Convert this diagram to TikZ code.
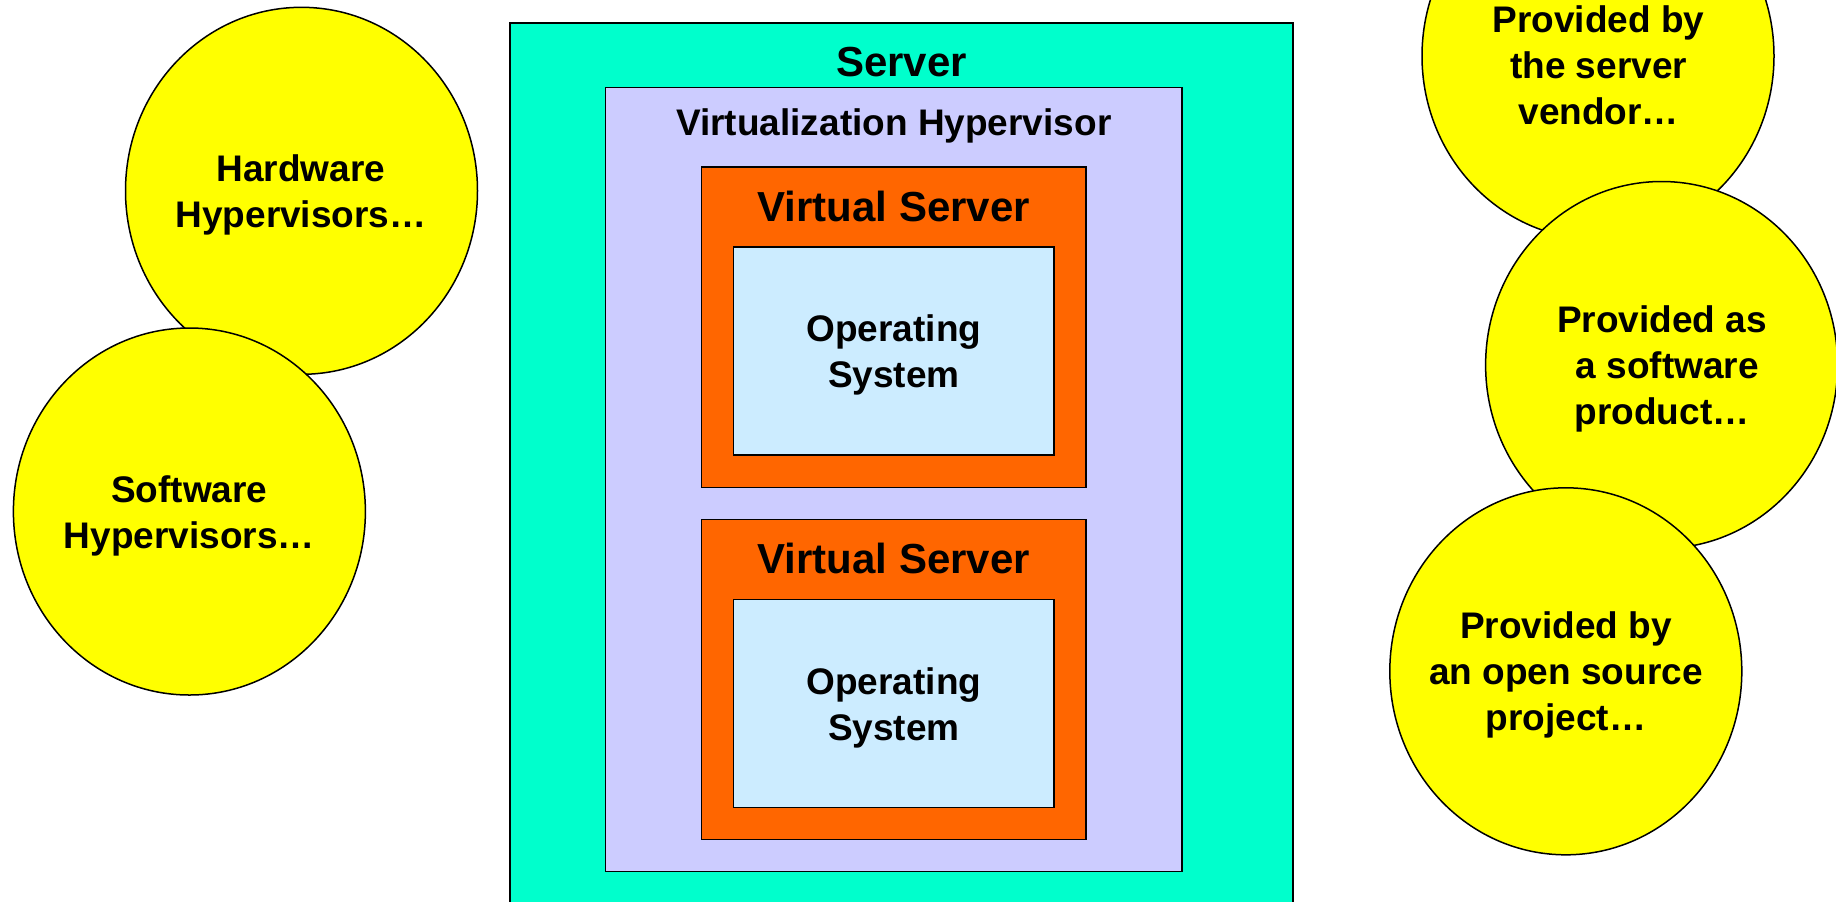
\documentclass[tikz,border=0pt]{standalone}
\usepackage{fontspec}
\setmainfont{Liberation Sans}
\usetikzlibrary{shapes.geometric,calc}

\definecolor{serverfill}{HTML}{00FFCC}
\definecolor{hyperfill}{HTML}{CCCCFF}
\definecolor{vsfill}{HTML}{FF6600}
\definecolor{osfill}{HTML}{CCECFF}
\definecolor{bubblefill}{HTML}{FFFF00}

\tikzset{
  box/.style={draw=black, line width=0.75pt, inner sep=0pt, outer sep=0pt},
  bubble/.style={ellipse, draw=black, line width=0.75pt, fill=bubblefill,
    minimum width=176pt, minimum height=183.5pt, inner sep=0pt, outer sep=0pt},
  bigtitle/.style={font=\bfseries\fontsize{21}{25}\selectfont, anchor=base, inner sep=0pt},
  midtitle/.style={font=\bfseries\fontsize{18.5}{22.2}\selectfont, anchor=base, inner sep=0pt},
  body/.style={font=\bfseries\fontsize{18.5}{23}\selectfont, align=center, inner sep=0pt},
}

\begin{document}
\begin{tikzpicture}[x=0.5pt, y=-0.5pt]
  \clip (0,0) rectangle (1836,901);

  % physical server and hypervisor layer
  \node[box, fill=serverfill, minimum width=391.5pt, minimum height=453.5pt] (server) at (901.4,476.5) {};
  \node[bigtitle] (servertxt) at ($(server.north)+(0,53.5)$) {Server};

  \node[box, fill=hyperfill, minimum width=288.1pt, minimum height=391.95pt] (hyper) at (893.8,479.35) {};
  \node[midtitle] (hypertxt) at ($(hyper.north)+(0,47.6)$) {Virtualization Hypervisor};

  % first virtual server
  \node[box, fill=vsfill, minimum width=192.15pt, minimum height=160.1pt] (vsa) at (893.85,327.3) {};
  \node[bigtitle] (vsatxt) at ($(vsa.north)+(0,54)$) {Virtual Server};
  \node[box, fill=osfill, minimum width=160.15pt, minimum height=104.05pt] (osa) at (893.85,351.15) {};
  \node[body] (osatxt) at ($(osa.center)+(0,4)$) {Operating\\System};

  % second virtual server
  \node[box, fill=vsfill, minimum width=192.15pt, minimum height=160.1pt] (vsb) at (893.85,679.6) {};
  \node[bigtitle] (vsbtxt) at ($(vsb.north)+(0,54)$) {Virtual Server};
  \node[box, fill=osfill, minimum width=160.15pt, minimum height=104.05pt] (osb) at (893.85,703.45) {};
  \node[body] (osbtxt) at ($(osb.center)+(0,4)$) {Operating\\System};

  % hypervisor kinds
  \node[bubble] (hw) at (301.5,190.8) {};
  \node[body] (hwtxt) at (301,195) {Hardware\\Hypervisors…};
  \node[bubble] (sw) at (189.4,511.5) {};
  \node[body] (swtxt) at (189.4,515.5) {Software\\Hypervisors…};

  % where hypervisors come from
  \node[bubble] (vendor) at (1598,56) {};
  \node[body] (vendortxt) at (1598.6,65) {Provided by\\the server\\vendor…};
  \node[bubble] (product) at (1661.6,365) {};
  \node[body] (producttxt) at (1662,369) {Provided as\\\hspace*{0.28em}a software\\product…};
  \node[bubble] (open) at (1565.8,671.3) {};
  \node[body] (opentxt) at (1566,675) {Provided by\\an open source\\project…};
\end{tikzpicture}
\end{document}
